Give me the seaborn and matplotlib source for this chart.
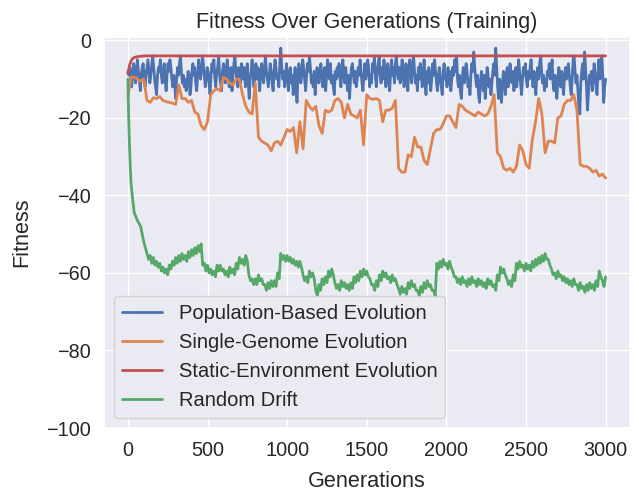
import numpy as np
import pandas as pd
import matplotlib
matplotlib.use("Agg")
import matplotlib.pyplot as plt
import seaborn as sns

series_names = ["Population-Based Evolution", "Single-Genome Evolution",
                "Static-Environment Evolution", "Random Drift"]

# Population-based: one value every 6 generations (rows of 120 generations)
pop_step = 6
pop_values = [
    -8, -9, -7, -10, -12, -8, -6, -9, -11, -7, -5, -8, -10, -13, -9, -7, -6, -10, -12, -9,
    -7, -5, -8, -11, -9, -6, -4, -7, -10, -12, -14, -9, -7, -8, -5, -9, -11, -8, -6, -10,
    -13, -9, -6, -8, -5, -7, -10, -12, -9, -11, -15, -10, -7, -9, -6, -4, -8, -11, -9, -12,
    -10, -13, -11, -8, -9, -14, -12, -8, -6, -9, -7, -11, -13, -9, -5, -7, -10, -8, -4, -6,
    -9, -12, -10, -7, -8, -11, -14, -9, -6, -8, -5, -10, -12, -8, -7, -4, -9, -11, -13, -8,
    -6, -9, -11, -7, -5, -8, -12, -10, -7, -13, -9, -6, -4, -8, -10, -12, -7, -9, -11, -6,
    -8, -10, -7, -12, -9, -6, -11, -15, -10, -8, -5, -9, -12, -8, -6, -10, -7, -9, -13, -8,
    -6, -9, -11, -7, -4, -8, -10, -12, -9, -6, -8, -11, -13, -8, -5, -7, -10, -9, -12, -6,
    -2, -7, -10, -8, -12, -9, -6, -10, -13, -8, -7, -11, -9, -14, -10, -7, -12, -16, -9, -6,
    -8, -11, -9, -5, -7, -10, -13, -9, -6, -8, -4, -7, -11, -9, -12, -8, -14, -10, -7, -9,
    -11, -8, -6, -9, -12, -10, -7, -13, -9, -5, -8, -10, -6, -11, -9, -12, -14, -8, -10, -7,
    -9, -6, -10, -12, -8, -5, -9, -11, -7, -10, -13, -9, -15, -10, -7, -6, -9, -11, -8, -12,
    -10, -7, -9, -5, -8, -11, -13, -9, -6, -10, -8, -5, -7, -12, -9, -11, -6, -8, -4, -9,
    -12, -8, -6, -4, -9, -11, -7, -10, -5, -8, -12, -9, -6, -10, -13, -8, -5, -9, -7, -11,
    -6, -4, -8, -10, -7, -11, -9, -5, -8, -12, -10, -6, -9, -13, -7, -5, -8, -11, -6, -4,
    -8, -11, -9, -13, -7, -10, -6, -8, -12, -9, -5, -10, -14, -8, -11, -7, -9, -13, -10, -6,
    -9, -5, -8, -11, -13, -9, -7, -10, -12, -14, -8, -6, -10, -9, -12, -7, -11, -8, -13, -10,
    -7, -9, -5, -8, -4, -10, -12, -9, -13, -15, -10, -7, -11, -9, -6, -8, -12, -10, -14, -9,
    -6, -8, -3, -7, -10, -12, -9, -14, -16, -11, -8, -10, -13, -9, -15, -11, -7, -9, -12, -10,
    -14, -11, -8, -6, -9, -2, -7, -12, -15, -10, -13, -16, -11, -8, -10, -14, -9, -7, -12, -10,
    -6, -9, -11, -8, -13, -10, -7, -12, -9, -5, -8, -11, -14, -10, -7, -9, -6, -10, -12, -8,
    -10, -7, -5, -9, -12, -8, -11, -14, -9, -7, -10, -6, -4, -8, -11, -9, -13, -10, -12, -8,
    -9, -6, -10, -8, -5, -11, -13, -9, -12, -15, -10, -7, -9, -12, -8, -11, -14, -9, -7, -10,
    -8, -6, -9, -12, -14, -10, -5, -4, -8, -11, -9, -13, -17, -19, -11, -8, -6, -10, -3, -7,
    -12, -18, -14, -9, -11, -8, -13, -10, -6, -9, -12, -14, -8, -5, -10, -7, -4, -9, -16, -12,
    -10,
]

# Single-genome: one value every 20 generations
single_step = 20
single_values = [
    -14.5, -9.5, -9.5, -10, -10.5, -10, -15.5, -16, -14.8, -15,
    -14.5, -15.5, -15.8, -16, -16.2, -16.5, -11.5, -15, -15, -16,
    -15.5, -18.5, -19, -22, -23, -21, -14, -13, -12.5, -13,
    -9.5, -10, -11, -11.5, -10, -10, -14, -17, -18.5, -19,
    -11, -25, -26, -26.5, -27, -28.5, -26.5, -26, -27, -25,
    -23, -23.5, -22.5, -29, -21, -28, -15.5, -17, -18, -17,
    -22, -24, -18, -18.5, -18, -15.5, -15, -16, -20, -16.5,
    -19, -19.5, -20, -18, -27, -14, -15, -15.2, -15, -15.5,
    -21, -18, -18, -17.5, -15.5, -33, -34, -34, -29.5, -30,
    -25, -27.5, -27.5, -31, -32, -28, -24, -23, -23, -21.5,
    -19.5, -19.5, -21, -22.5, -16.5, -17, -18, -18.5, -19, -19.5,
    -18.5, -19, -19.5, -19, -17, -14, -29, -30, -33, -33.5,
    -33, -34, -32.5, -27, -28.5, -32, -33, -25.5, -21, -15,
    -19, -29, -26, -26, -26.5, -20, -19.5, -16.5, -15.5, -15.5,
    -14, -18, -32, -32.5, -32.5, -33, -34, -33.5, -35, -34.5,
    -35.5,
]

# Static environment
static_gens = [0, 10, 20, 30, 40, 60, 80, 100, 3000]
static_values = [-8.5, -6.5, -5.3, -4.7, -4.4, -4.2, -4.1, -4.0, -4.0]

# Random drift
drift_gens_early = [0, 5, 10, 15, 20, 30, 40, 60, 80, 100]
drift_values_early = [-10, -20, -27, -33, -37, -41, -44.5, -46.5, -48, -52]
drift_step = 10
drift_values_late = [  # from generation 120 to 3000, rows of 200 generations
    -55, -56.5, -55.5, -57.5, -56, -58, -57, -58.5, -57.5, -59.5, -58.5, -60, -59, -60.5, -58, -59, -57, -58, -56, -57.5,
    -55.5, -57, -55, -56.5, -55.5, -57, -54.5, -56, -54, -55.5, -53.5, -55, -53, -54.5, -52.5, -58, -57.5, -59.5, -58, -60,
    -59, -60.5, -59.5, -61, -58, -59.5, -58, -59.5, -59, -60.5, -59.5, -61, -58.5, -60, -59, -60.5, -57.5, -59, -56, -57.5,
    -56.5, -58, -55.5, -57, -60.5, -62, -61.5, -63, -61.5, -63, -60.5, -62, -61.5, -63, -63, -64.5, -62.5, -64, -62, -63.5,
    -62, -63.5, -60, -61.5, -55, -56.5, -55.5, -57, -55.5, -57, -56, -57.5, -56.5, -58, -57, -58.5, -57, -58.5, -60.5, -62,
    -61, -62.5, -59.5, -61, -60, -61.5, -64.5, -66, -63, -64.5, -61.5, -63, -61, -62.5, -59.5, -61, -59, -60.5, -62.5, -64,
    -63, -64.5, -62, -63.5, -62.5, -64, -63, -64.5, -62.5, -64, -61, -62.5, -60.5, -62, -59.5, -61, -59, -60.5, -59.5, -61,
    -61.5, -63, -63, -64.5, -62, -63.5, -60.5, -62, -59.5, -61, -60, -61.5, -61, -62.5, -60.5, -62, -61.5, -63, -64, -65.5,
    -63.5, -65, -64, -65.5, -62.5, -64, -62, -63.5, -63, -64.5, -64.5, -66, -63.5, -65, -62.5, -64, -62, -63.5, -63, -64.5,
    -64.5, -66, -57.5, -59, -57, -58.5, -56.5, -58, -57.5, -59, -57, -58.5, -59.5, -61, -61, -62.5, -61.5, -63, -61, -62.5,
    -62, -63.5, -61.5, -63, -61, -62.5, -62, -63.5, -61.5, -63, -62, -63.5, -62.5, -64, -61.5, -63, -62, -63.5, -63, -64.5,
    -60.5, -62, -58.5, -60, -59, -60.5, -61.5, -63, -62, -63.5, -60.5, -62, -57.5, -59, -57, -58.5, -58, -59.5, -57.5, -59,
    -58, -59.5, -57, -58.5, -56.5, -58, -56, -57.5, -55.5, -57, -55, -56.5, -56.5, -58, -59, -60.5, -60, -61.5, -59.5, -61,
    -60.5, -62, -61, -62.5, -61.5, -63, -62, -63.5, -61.5, -63, -63, -64.5, -62.5, -64, -63.5, -65, -63, -64.5, -62.5, -64,
    -63, -64.5, -62, -63.5, -59.5, -61, -62, -63.5, -61,
]

pop_gens = list(range(0, pop_step * len(pop_values), pop_step))
single_gens = list(range(0, single_step * len(single_values), single_step))
drift_gens = drift_gens_early + list(range(120, 120 + drift_step * len(drift_values_late), drift_step))
drift_values = drift_values_early + drift_values_late

frames = [
    pd.DataFrame({"Generation": pop_gens, "Fitness": pop_values, "Series": series_names[0]}),
    pd.DataFrame({"Generation": single_gens, "Fitness": single_values, "Series": series_names[1]}),
    pd.DataFrame({"Generation": static_gens, "Fitness": static_values, "Series": series_names[2]}),
    pd.DataFrame({"Generation": drift_gens, "Fitness": drift_values, "Series": series_names[3]}),
]
df = pd.concat(frames, ignore_index=True)

sns.set_theme(style="darkgrid", font_scale=1.3)
plt.rcParams["font.family"] = ["Liberation Sans", "DejaVu Sans"]
deep = sns.color_palette("deep")
palette = {series_names[0]: deep[0], series_names[1]: deep[1],
           series_names[2]: deep[3], series_names[3]: deep[2]}

fig = plt.figure(figsize=(6.39, 4.91), dpi=100)
ax = fig.add_axes([104 / 639, (491 - 428) / 491, (629.5 - 104) / 639, (428 - 36.5) / 491])
sns.lineplot(data=df, x="Generation", y="Fitness", hue="Series", hue_order=series_names,
             palette=palette, estimator=None, linewidth=2, ax=ax)
ax.set_ylim(-100, 1)
ax.set_xlim(-150, 3150)
ax.set_title("Fitness Over Generations (Training)", fontsize=15.5)
ax.set_xlabel("Generations", labelpad=8)
ax.set_ylabel("Fitness", labelpad=10)
ax.legend(loc="lower left", title=None, fontsize=14.5)
fig.savefig("out.png", dpi=100)
